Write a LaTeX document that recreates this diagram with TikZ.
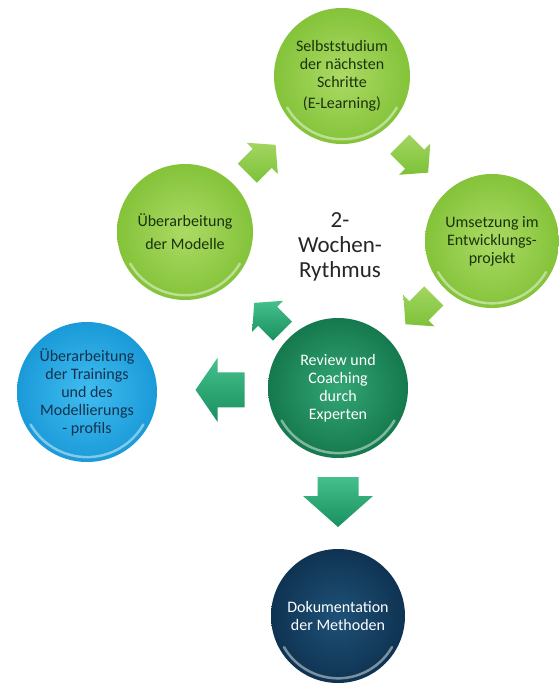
\documentclass[tikz,border=0pt]{standalone}
\usepackage{fontspec}
\setmainfont{Carlito}
\usetikzlibrary{calc}
\definecolor{lgA}{HTML}{ACDA64}
\definecolor{lgB}{HTML}{84C33A}
\definecolor{lgT}{HTML}{1A330D}
\definecolor{dgA}{HTML}{33A674}
\definecolor{dgB}{HTML}{15794E}
\definecolor{blA}{HTML}{40BDF0}
\definecolor{blB}{HTML}{1A9AD8}
\definecolor{blT}{HTML}{13324F}
\definecolor{nvA}{HTML}{1E5177}
\definecolor{nvB}{HTML}{0F3352}
\definecolor{laA}{HTML}{7DC238}
\definecolor{laB}{HTML}{A2D561}
\definecolor{daA}{HTML}{188F5F}
\definecolor{daB}{HTML}{45C08C}
\definecolor{midT}{HTML}{262626}
\tikzset{
  ballnode/.style={circle, inner sep=0pt, align=center,
    font=\fontsize{16}{18}\selectfont},
  greenball/.style={ballnode, inner color=lgA, outer color=lgB, text=lgT},
  reviewball/.style={ballnode, inner color=dgA, outer color=dgB, text=white},
  blueball/.style={ballnode, inner color=blA, outer color=blB, text=blT},
  navyball/.style={ballnode, inner color=nvA, outer color=nvB, text=white},
  rim/.style={white, opacity=.45, line width=2.5pt, line cap=round},
  lgarrow/.style={top color=laB, bottom color=laA},
  dgarrow/.style={top color=daB, bottom color=daA},
  pics/blockarrow/.style n args={5}{code={
    \path[#5] (-#1,-#4) -- (#2,-#4) -- (#2,-#3) -- (#1,0) -- (#2,#3)
      -- (#2,#4) -- (-#1,#4) -- cycle;}},
}
\newcommand\ballfx[2]{%
  \draw[rim] ($(#1)+(-150:#2*0.93pt)$) arc[start angle=-150, end angle=-30, radius=#2*0.93pt];
}
\begin{document}
\begin{tikzpicture}[x=1pt, y=-1pt]
\useasboundingbox (0,0) rectangle (558,685);
\fill[white] (0,0) rectangle (558,685);

% circles
\node[greenball, minimum size=136pt] (sel) at (342,76)
  {Selbststudium\\der nächsten\\Schritte\\[3pt](E-Learning)};
\node[greenball, minimum size=136pt] (ueb) at (185,232)
  {Überarbeitung\\[5pt]der Modelle};
\node[greenball, minimum size=134pt] (ums) at (492,241)
  {Umsetzung im\\Entwicklungs-\\projekt};
\node[reviewball, minimum size=140pt] (rev) at (338,388)
  {Review und\\Coaching\\durch\\Experten};
\node[blueball, minimum size=140pt] (blue) at (87,392)
  {Überarbeitung\\der Trainings\\und des\\Modellierungs\\- profils};
\node[navyball, minimum size=134pt] (doc) at (338,616)
  {Dokumentation\\der Methoden};

\ballfx{sel}{68}
\ballfx{ueb}{68}
\ballfx{ums}{67}
\ballfx{rev}{70}
\ballfx{blue}{70}
\ballfx{doc}{67}

% centre text
\node[align=center, text=midT, font=\fontsize{23}{25}\selectfont] (mid) at (340,247)
  {2-\\Wochen-\\Rythmus};

% block arrows between the circles
\pic[rotate=45] (a1) at ($(ueb)!0.5!(sel)+(-2,5)$) {blockarrow={20}{1}{22}{13.5}{lgarrow}};
\pic[rotate=-45] (a2) at ($(sel)!0.5!(ums)+(-3,0)$) {blockarrow={20}{1}{22}{13.5}{lgarrow}};
\pic[rotate=-135] (a3) at ($(ums)!0.47!(rev)$) {blockarrow={20}{1}{22}{13.5}{lgarrow}};
\pic[rotate=135] (a4) at ($(rev)!0.455!(ueb)$) {blockarrow={20}{1}{22}{13.5}{dgarrow}};
\pic[rotate=180] (a5) at ($(rev)!0.47!(blue)$) {blockarrow={24.5}{2.5}{32}{17.5}{dgarrow}};
\pic[rotate=-90] (a6) at ($(rev)!0.5!(doc)$) {blockarrow={25}{-6}{35}{20.5}{dgarrow}};
\end{tikzpicture}
\end{document}
